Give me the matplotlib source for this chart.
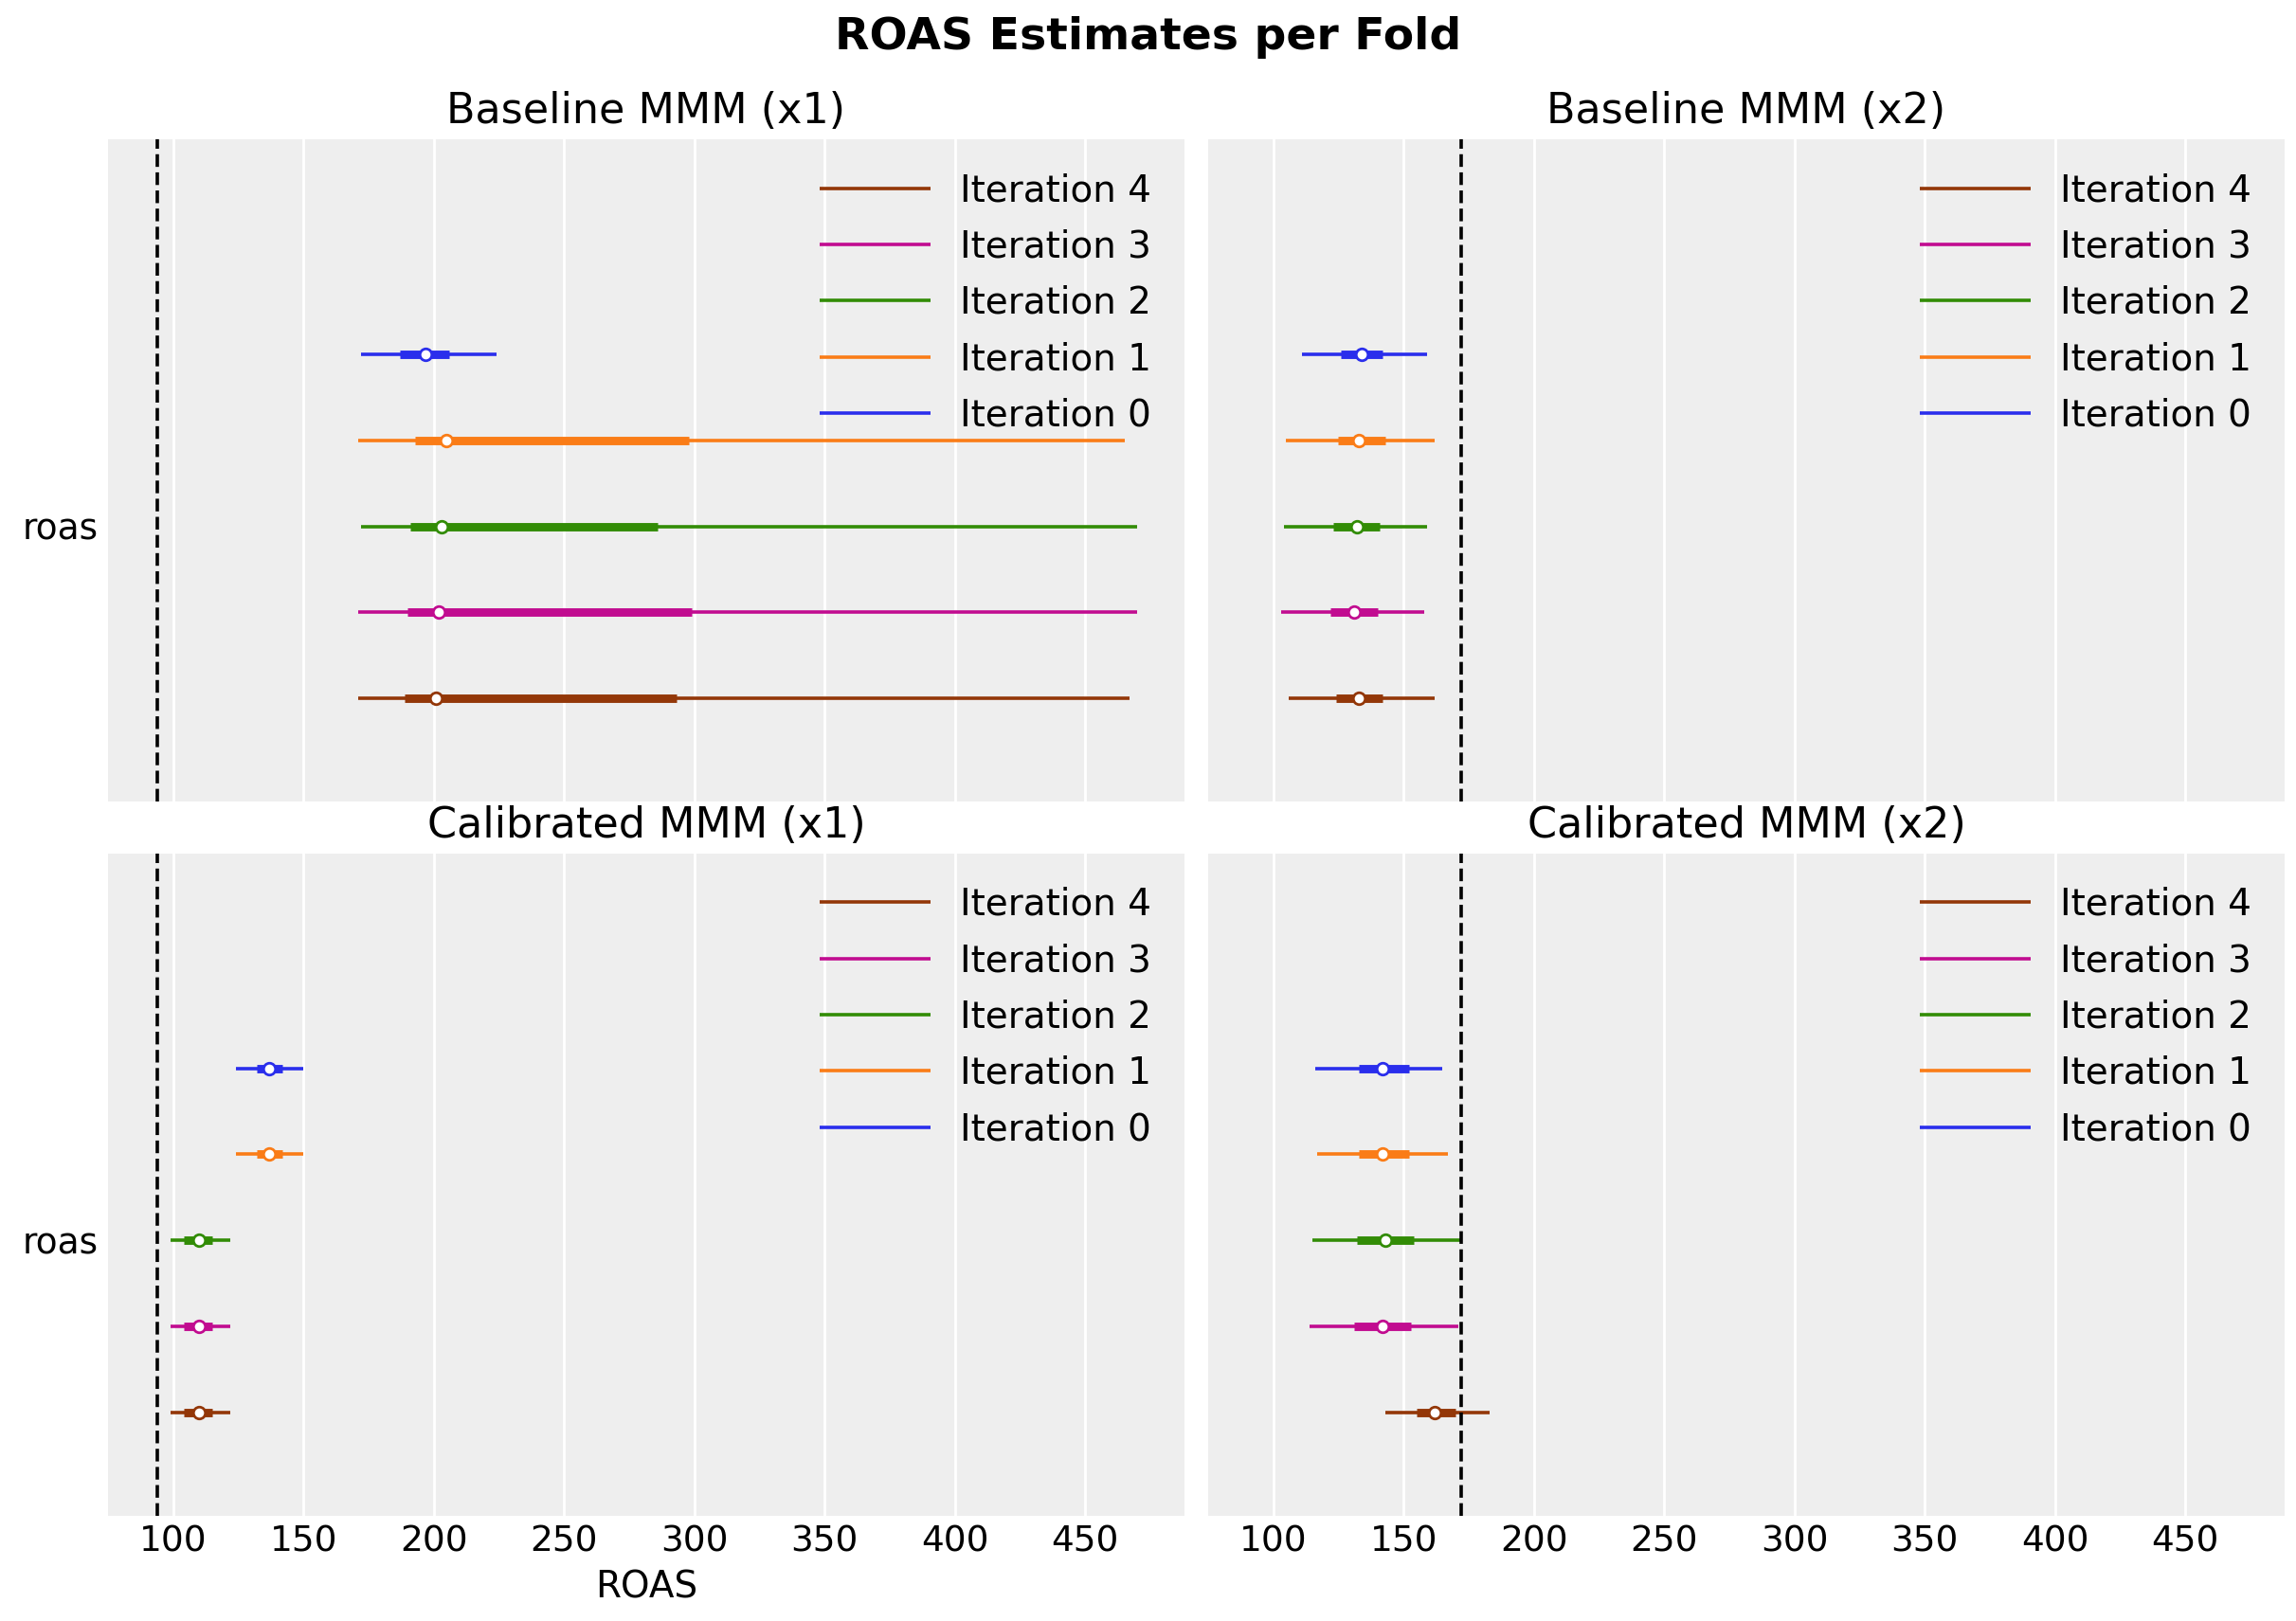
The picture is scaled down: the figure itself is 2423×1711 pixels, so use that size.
import matplotlib
matplotlib.use("Agg")
import matplotlib.pyplot as plt

iterations = ["Iteration 0", "Iteration 1", "Iteration 2", "Iteration 3", "Iteration 4"]
colors = ["#2a2eec", "#fa7c17", "#328c06", "#c10c90", "#933708"]
titles = ["Baseline MMM (x1)", "Baseline MMM (x2)", "Calibrated MMM (x1)", "Calibrated MMM (x2)"]
true_roas = [94, 172, 94, 172]

# per panel: (hdi94_low, hdi94_high, hdi50_low, hdi50_high, median) for iterations 0..4
base_x1 = [(172, 224, 187, 206, 197), (171, 465, 193, 298, 205), (172, 470, 191, 286, 203),
           (171, 470, 190, 299, 202), (171, 467, 189, 293, 201)]
base_x2 = [(111, 159, 126, 142, 134), (105, 162, 125, 143, 133), (104, 159, 123, 141, 132),
           (103, 158, 122, 140, 131), (106, 162, 124, 142, 133)]
cal_x1 = [(124, 150, 132, 142, 137), (124, 150, 132, 142, 137), (99, 122, 104, 115, 110),
          (99, 122, 104, 115, 110), (99, 122, 104, 115, 110)]
cal_x2 = [(116, 165, 133, 152, 142), (117, 167, 133, 152, 142), (115, 172, 132, 154, 143),
          (114, 171, 131, 153, 142), (143, 183, 155, 170, 162)]
panels = [base_x1, base_x2, cal_x1, cal_x2]

fig, axes = plt.subplots(2, 2, figsize=(12.115, 8.555), dpi=200, sharex=True)
fig.subplots_adjust(left=0.047, right=0.995, top=0.914, bottom=0.065, wspace=0.022, hspace=0.078)

for k, ax in enumerate(axes.flat):
    ax.set_facecolor("#eeeeee")
    for s in ax.spines.values():
        s.set_visible(False)
    ax.grid(axis="x", color="white", linewidth=1.0)
    ax.set_axisbelow(True)
    data = panels[k]
    handles = []
    for i, (lo, hi, l50, h50, med) in enumerate(data):
        y = 4 - i
        h, = ax.plot([lo, hi], [y, y], color=colors[i], lw=1.3, label=iterations[i], solid_capstyle="butt")
        ax.plot([l50, h50], [y, y], color=colors[i], lw=3.2, solid_capstyle="butt")
        ax.plot([med], [y], "o", ms=4.5, mfc="white", mec=colors[i], mew=1.0)
        handles.append(h)
    ax.axvline(true_roas[k], color="black", ls="--", lw=1.3)
    ax.set_ylim(-1.2, 6.5)
    ax.set_xlim(75, 488)
    ax.set_xticks([100, 150, 200, 250, 300, 350, 400, 450])
    ax.tick_params(axis="both", length=0, labelsize=13.5)
    if k % 2 == 0:
        ax.set_yticks([2])
        ax.set_yticklabels(["roas"])
    else:
        ax.set_yticks([])
    ax.set_title(titles[k], fontsize=16)
    leg = ax.legend(handles[::-1], iterations[::-1], loc="upper right", frameon=False, fontsize=14,
                    handlelength=3.0, labelspacing=0.55)
axes[1, 0].set_xlabel("ROAS", fontsize=14)
fig.suptitle("ROAS Estimates per Fold", fontsize=17, fontweight="bold", y=0.99)
fig.savefig("out.png", dpi=200)
